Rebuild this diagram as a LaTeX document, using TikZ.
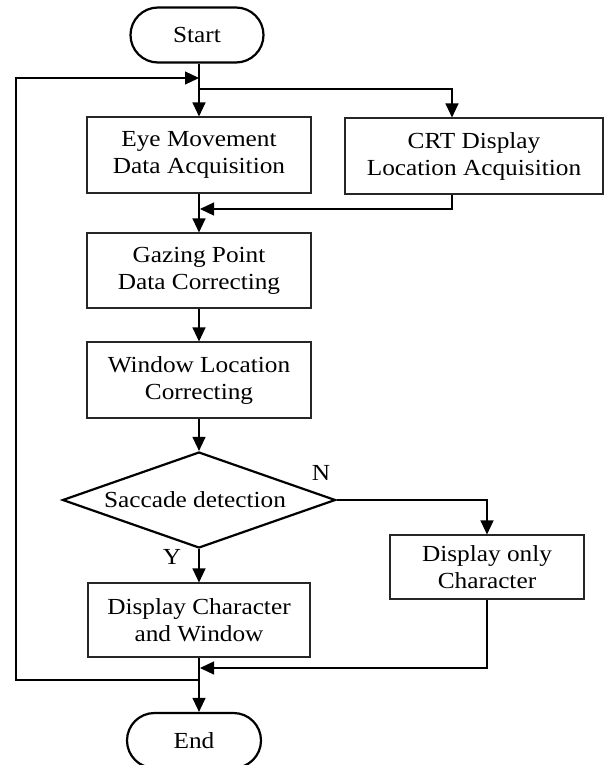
\documentclass[tikz,border=0pt]{standalone}
\usepackage{fontspec}
\setmainfont{Liberation Serif}[FakeStretch=1.1]
\usetikzlibrary{shapes.geometric,shapes.misc,arrows.meta}
\begin{document}
\begin{tikzpicture}[x=1pt,y=-1pt,
  font=\fontsize{23}{27}\selectfont,
  box/.style={draw=black!85, line width=1.1pt, align=center, inner sep=0pt},
  term/.style={rounded rectangle, draw, line width=2.2pt, minimum width=133pt, minimum height=55pt, inner sep=0pt},
  dec/.style={diamond, draw, line width=2.2pt, aspect=2.84, minimum width=273pt, minimum height=96pt, inner sep=0pt},
  conn/.style={line width=1.2pt},
  arr/.style={line width=1.2pt, -{Triangle[length=14pt,width=13pt]}},
  lab/.style={inner sep=0pt}]
\useasboundingbox (0,0) rectangle (605,765);

% nodes
\node[term] (start) at (197,35) {Start};
\node[box, minimum width=224pt, minimum height=76pt] (eye) at (199,155) {Eye Movement\\Data Acquisition};
\node[box, minimum width=258pt, minimum height=76pt] (crt) at (474,156) {CRT Display\\Location Acquisition};
\node[box, minimum width=224pt, minimum height=75pt] (gaze) at (199,270.5) {Gazing Point\\Data Correcting};
\node[box, minimum width=224pt, minimum height=76pt] (win) at (199,380) {Window Location\\Correcting};
\node[dec] (sac) at (199,500) {Saccade detection\hspace*{8pt}};
\node[box, minimum width=194pt, minimum height=64pt] (donly) at (487,567) {Display only\\Character};
\node[box, minimum width=222pt, minimum height=74pt] (dchar) at (199,620) {Display Character\\and Window};
\node[term, minimum width=134pt] (end) at (194,740.5) {End};
\node[lab] (N) at (321,473) {N};
\node[lab] (Y) at (172,557) {Y};

% coordinates
\coordinate (cA) at (199,78);
\coordinate (cB) at (199,89);
\coordinate (cBr) at (452,89);
\coordinate (lT) at (16,78);
\coordinate (lB) at (16,680);
\coordinate (cL) at (199,680);
\coordinate (m1) at (452,209);
\coordinate (m1t) at (200,209);
\coordinate (nR) at (487,500);
\coordinate (m2) at (487,668);
\coordinate (m2t) at (200,668);

% connectors
\draw[arr] (start.south -| eye.north) -- (eye.north);
\draw[arr] (cL) -- (lB) -- (lT) -- (cA);
\draw[arr] (cB) -- (cBr) -- (crt.north -| cBr);
\draw[arr] (eye.south) -- (gaze.north);
\draw[arr] (crt.south -| m1) -- (m1) -- (m1t);
\draw[arr] (gaze.south) -- (win.north);
\draw[arr] (win.south) -- (sac.north);
\draw[arr] (sac.south) -- (dchar.north);
\draw[arr] (sac.east) -- (nR) -- (donly.north);
\draw[arr] (donly.south) -- (m2) -- (m2t);
\draw[arr] (dchar.south) -- (end.north -| dchar.south);
\end{tikzpicture}
\end{document}
